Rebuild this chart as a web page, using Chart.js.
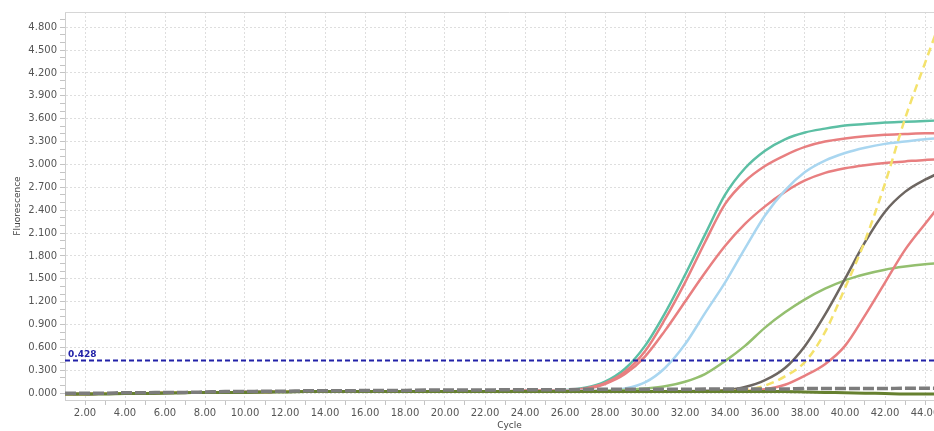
<!DOCTYPE html>
<html>
<head>
<meta charset="utf-8">
<script src="https://cdn.jsdelivr.net/npm/chart.js@4/dist/chart.umd.min.js"></script>
<style>
  html, body { margin: 0; padding: 0; background: #fff; overflow: hidden; }
  #wrap { width: 934px; height: 431px; overflow: hidden; }
</style>
</head>
<body>
<div id="wrap"><canvas id="qpcr" width="954" height="431"></canvas></div>
<script>
let cycles = [1,2,3,4,5,6,7,8,9,10,11,12,13,14,15,16,17,18,19,20,21,22,23,24,25,26,27,28,29,30,31,32,33,34,35,36,37,38,39,40,41,42,43,44,45]

let xTickLabels = [2,4,6,8,10,12,14,16,18,20,22,24,26,28,30,32,34,36,38,40,42,44]
let yTickLabels = [0,0.3,0.6,0.9,1.2,1.5,1.8,2.1,2.4,2.7,3.0,3.3,3.6,3.9,4.2,4.5,4.8]
let threshold = 0.428

let teal = [-0.01,-0.01,-0.005,0,0,0.005,0.01,0.01,0.01,0.015,0.015,0.02,0.02,0.02,0.02,0.02,0.02,0.025,0.025,0.025,0.025,0.025,0.025,0.03,0.03,
    0.04,0.07,0.15,0.32,0.62,1.05,1.55,2.08,2.6,2.95,3.18,3.33,3.42,3.47,3.51,3.53,3.55,3.56,3.57,3.58]
let red1 = [-0.01,-0.01,-0.005,0,0,0.005,0.01,0.01,0.01,0.015,0.015,0.02,0.02,0.02,0.02,0.02,0.02,0.025,0.025,0.025,0.025,0.025,0.025,0.03,0.03,
    0.035,0.06,0.13,0.28,0.55,0.97,1.45,1.98,2.48,2.78,2.98,3.12,3.23,3.3,3.34,3.37,3.39,3.4,3.41,3.41]
let red2 = [-0.01,-0.01,-0.005,0,0,0.005,0.01,0.01,0.01,0.015,0.015,0.02,0.02,0.02,0.02,0.02,0.02,0.025,0.025,0.025,0.025,0.025,0.025,0.03,0.03,
    0.03,0.05,0.12,0.25,0.48,0.82,1.2,1.58,1.93,2.22,2.45,2.64,2.79,2.89,2.95,2.99,3.02,3.04,3.06,3.07]
let blue = [-0.01,-0.01,-0.005,0,0,0.005,0.01,0.01,0.01,0.015,0.015,0.02,0.02,0.02,0.02,0.02,0.02,0.025,0.025,0.025,0.025,0.025,0.025,0.025,0.025,
    0.03,0.03,0.03,0.06,0.14,0.33,0.64,1.05,1.45,1.9,2.33,2.66,2.9,3.05,3.15,3.22,3.27,3.3,3.33,3.35]
let green = [-0.01,-0.01,-0.005,0,0,0.005,0.01,0.01,0.01,0.015,0.015,0.02,0.02,0.02,0.02,0.02,0.02,0.02,0.02,0.02,0.02,0.02,0.025,0.025,0.025,
    0.025,0.025,0.03,0.04,0.06,0.09,0.15,0.25,0.42,0.62,0.86,1.06,1.23,1.37,1.48,1.56,1.62,1.66,1.69,1.71]
let gray = [-0.01,-0.01,-0.005,0,0,0.005,0.01,0.01,0.01,0.015,0.015,0.02,0.02,0.02,0.02,0.02,0.02,0.02,0.02,0.02,0.02,0.02,0.025,0.025,0.025,
    0.025,0.025,0.025,0.025,0.025,0.025,0.025,0.03,0.04,0.08,0.17,0.33,0.62,1.03,1.5,1.98,2.38,2.64,2.8,2.92]
let yellow = [-0.01,-0.01,-0.005,0,0,0.005,0.01,0.01,0.01,0.015,0.015,0.02,0.02,0.02,0.02,0.02,0.02,0.02,0.02,0.02,0.02,0.02,0.02,0.025,0.025,
    0.025,0.025,0.025,0.025,0.025,0.025,0.025,0.025,0.03,0.04,0.1,0.22,0.41,0.8,1.38,2.0,2.75,3.6,4.33,5.05]
let red3 = [-0.01,-0.01,-0.005,0,0,0.005,0.01,0.01,0.01,0.015,0.015,0.02,0.02,0.02,0.02,0.02,0.02,0.02,0.02,0.02,0.02,0.02,0.02,0.02,0.02,
    0.02,0.02,0.02,0.02,0.02,0.02,0.02,0.02,0.02,0.03,0.05,0.11,0.23,0.38,0.62,1.02,1.45,1.88,2.22,2.55]
let olive = [-0.01,-0.01,-0.01,-0.005,-0.005,0,0.005,0.01,0.01,0.01,0.015,0.015,0.02,0.02,0.02,0.02,0.02,0.02,0.02,0.02,0.02,0.02,0.02,0.02,0.02,
    0.02,0.02,0.02,0.02,0.02,0.02,0.02,0.02,0.02,0.02,0.02,0.02,0.015,0.01,0.005,0,-0.005,-0.01,-0.01,-0.01]
let grayDash = [0,0,0,0.005,0.005,0.01,0.01,0.015,0.02,0.02,0.025,0.025,0.03,0.03,0.03,0.035,0.035,0.035,0.04,0.04,0.04,0.04,0.045,0.045,0.045,
    0.045,0.05,0.05,0.05,0.05,0.05,0.05,0.055,0.055,0.055,0.055,0.055,0.06,0.06,0.06,0.06,0.06,0.065,0.065,0.065]

let color_teal = '#5cbfa4'
let color_red = '#e87f80'
let color_blue = '#a9d6f0'
let color_green = '#94bf6f'
let color_gray = '#6d6661'
let color_yellow = '#f4e26c'
let color_olive = '#66802f'
let color_threshold = '#2222a8'

function pts(values) {
    return cycles.map((c, i) => ({ x: c, y: values[i] }))
}

function curve(label, values, color, extra) {
    return Object.assign({
        label: label,
        data: pts(values),
        borderColor: color,
        borderWidth: 2.5,
        pointRadius: 0,
        fill: false,
        cubicInterpolationMode: 'monotone',
        order: 5
    }, extra || {})
}

let isMajorY = v => Math.abs(v / 0.3 - Math.round(v / 0.3)) < 1e-6

// top frame line + threshold label
let framePlugin = {
    id: 'frame',
    afterDatasetsDraw(chart) {
        let ctx = chart.ctx, a = chart.chartArea
        ctx.save()
        ctx.strokeStyle = '#d6d6d6'
        ctx.lineWidth = 1
        ctx.beginPath()
        ctx.moveTo(a.left, a.top + 0.5)
        ctx.lineTo(a.right, a.top + 0.5)
        ctx.stroke()
        let y = chart.scales.y.getPixelForValue(threshold)
        ctx.fillStyle = color_threshold
        ctx.font = 'bold 9px "DejaVu Sans"'
        ctx.textBaseline = 'bottom'
        ctx.fillText(threshold.toFixed(3), a.left + 3, y - 1)
        ctx.restore()
    }
}

let ctx = document.getElementById('qpcr').getContext('2d')
window.qpcrChart = new Chart(ctx, {
    type: 'line',
    data: {
        datasets: [
            {
                label: 'Threshold',
                data: [{ x: 1, y: threshold }, { x: 46, y: threshold }],
                borderColor: color_threshold,
                borderWidth: 2,
                borderDash: [5, 3],
                pointRadius: 0,
                order: 0
            },
            curve('grey', grayDash, '#7c7c7c', { borderWidth: 3.5, borderDash: [11, 3], order: 1 }),
            curve('olive', olive, color_olive, { borderWidth: 3, order: 2 }),
            curve('yellow', yellow, color_yellow, { borderDash: [8, 5] }),
            curve('dark', gray, color_gray),
            curve('red 3', red3, color_red),
            curve('green', green, color_green),
            curve('blue', blue, color_blue),
            curve('red 2', red2, color_red),
            curve('red 1', red1, color_red),
            curve('teal', teal, color_teal)
        ]
    },
    options: {
        responsive: false,
        animation: false,
        layout: { padding: { top: 12, left: 0, right: 0, bottom: 0 } },
        plugins: {
            legend: { display: false },
            tooltip: { enabled: false }
        },
        scales: {
            x: {
                type: 'linear',
                min: 1,
                max: 45.45,
                afterBuildTicks: function (scale) {
                    let t = []
                    xTickLabels.forEach(v => { t.push({ value: v }); t.push({ value: v + 1 }) })
                    scale.ticks = t.filter(o => o.value < 45.45)
                },
                afterFit: function (scale) { scale.height = 31 },
                ticks: {
                    autoSkip: false,
                    maxRotation: 0,
                    padding: 2,
                    color: '#555',
                    font: { family: 'DejaVu Sans', size: 10 },
                    callback: v => (v % 2 === 0 ? v.toFixed(2) : '')
                },
                grid: {
                    color: c => (c.tick && c.tick.value % 2 === 0 ? '#dedede' : 'rgba(0,0,0,0)'),
                    tickColor: '#c4c4c4',
                    tickLength: 5
                },
                border: { display: true, color: '#cfcfcf', dash: [2, 2] },
                title: {
                    display: true,
                    text: 'Cycle',
                    color: '#444',
                    font: { family: 'DejaVu Sans', size: 9 },
                    padding: { top: 0, bottom: 0 }
                }
            },
            y: {
                min: -0.09,
                max: 5.0,
                afterBuildTicks: function (scale) {
                    let t = []
                    yTickLabels.forEach(v => { t.push({ value: v }); t.push({ value: v + 0.1 }); t.push({ value: v + 0.2 }) })
                    scale.ticks = t.filter(o => o.value < 4.99)
                },
                afterFit: function (scale) { scale.width = 65 },
                ticks: {
                    autoSkip: false,
                    padding: 3,
                    color: '#555',
                    font: { family: 'DejaVu Sans', size: 10 },
                    callback: v => (isMajorY(v) ? v.toFixed(3) : '')
                },
                grid: {
                    color: c => (c.tick && isMajorY(c.tick.value) ? '#dedede' : 'rgba(0,0,0,0)'),
                    tickColor: '#c4c4c4',
                    tickLength: 5
                },
                border: { display: true, color: '#cfcfcf', dash: [2, 2] },
                title: {
                    display: true,
                    text: 'Fluorescence',
                    color: '#444',
                    font: { family: 'DejaVu Sans', size: 9 },
                    padding: { top: 12, bottom: 4 }
                }
            }
        }
    },
    plugins: [framePlugin]
})
</script>
</body>
</html>
